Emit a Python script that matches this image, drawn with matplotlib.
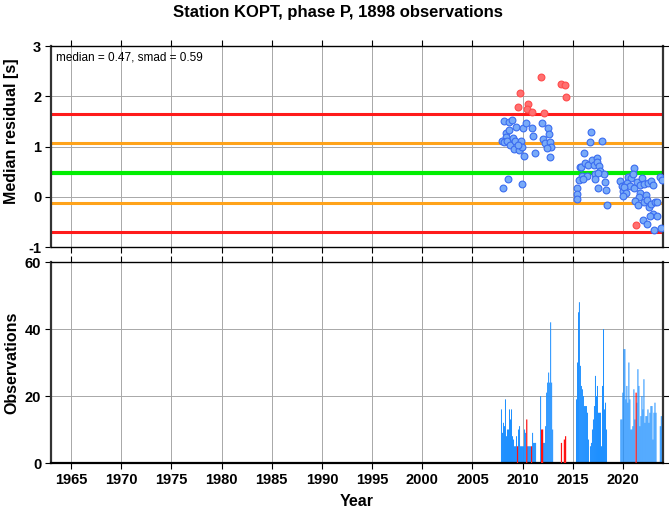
import matplotlib
matplotlib.use("Agg")
import matplotlib.pyplot as plt
import numpy as np

plt.rcParams['font.family'] = ['Liberation Sans', 'DejaVu Sans']

title = "Station KOPT, phase P, 1898 observations"
median = 0.47
smad = 0.59

# Monthly median residuals (inliers)
blue_year = [2008.13, 2008.70, 2008.93, 2009.33, 2008.33, 2008.63, 2008.37, 2007.93, 2008.20, 2008.50,
             2008.77, 2009.03, 2009.23, 2009.13, 2009.66, 2009.86, 2009.90, 2009.50, 2010.06, 2010.33,
             2010.16, 2010.99, 2011.03, 2011.26, 2011.92, 2012.02, 2012.28, 2012.55, 2012.62, 2012.75,
             2012.82, 2012.42, 2012.72, 2008.53, 2008.03, 2009.96,
             2016.84, 2016.77, 2017.93, 2016.17, 2015.74, 2015.87, 2016.27, 2016.50, 2016.97, 2017.14,
             2017.44, 2017.47, 2017.61, 2017.24, 2017.77, 2018.10, 2017.57, 2015.94, 2016.44, 2015.61,
             2016.04, 2017.20, 2018.20, 2015.47, 2017.50, 2018.27, 2015.47, 2015.41, 2018.37,
             2021.13, 2020.53, 2020.80, 2021.00, 2019.73, 2019.90, 2020.26, 2020.46, 2020.73, 2020.03,
             2020.16, 2020.33, 2019.99, 2021.10, 2021.40, 2021.90, 2021.73, 2022.13, 2022.50, 2022.85,
             2023.00, 2021.73, 2021.56, 2022.26, 2021.20, 2021.50, 2022.06, 2022.40, 2022.56, 2022.80,
             2023.22, 2023.39, 2023.75, 2023.88, 2023.00, 2022.72, 2023.39, 2021.99, 2022.38, 2023.82,
             2023.10]
blue_resid = [1.51, 1.49, 1.52, 1.39, 1.26, 1.33, 1.19, 1.10, 1.09, 1.11,
              1.02, 1.16, 1.10, 0.96, 0.94, 1.10, 0.99, 1.03, 1.37, 1.46,
              0.82, 1.37, 1.21, 0.88, 1.46, 1.14, 1.06, 1.37, 1.25, 1.08,
              1.00, 0.98, 0.80, 0.35, 0.17, 0.25,
              1.29, 1.08, 1.10, 0.87, 0.59, 0.60, 0.68, 0.63, 0.73, 0.63,
              0.77, 0.69, 0.61, 0.45, 0.52, 0.46, 0.48, 0.42, 0.41, 0.33,
              0.35, 0.35, 0.29, 0.17, 0.17, 0.14, 0.06, -0.05, -0.16,
              0.58, 0.40, 0.37, 0.45, 0.32, 0.21, 0.23, 0.28, 0.21, 0.12,
              0.19, 0.07, 0.02, 0.17, 0.29, 0.37, 0.23, 0.25, 0.27, 0.32,
              0.23, 0.08, -0.01, 0.03, -0.09, -0.16, -0.10, -0.06, -0.20, -0.15,
              -0.10, -0.11, 0.39, 0.33, -0.34, -0.38, -0.38, -0.46, -0.54, -0.62,
              -0.66]

# Monthly median residuals (outliers)
red_year = [2011.80, 2013.80, 2014.25, 2014.30, 2009.75, 2009.55, 2010.50, 2010.40, 2010.90, 2012.10, 2021.30]
red_resid = [2.38, 2.24, 2.22, 1.99, 2.06, 1.78, 1.85, 1.75, 1.68, 1.67, -0.57]

# Monthly observation counts
bar_year = [2007.90, 2008.00, 2008.10, 2008.20, 2008.30, 2008.40, 2008.50, 2008.60, 2008.70, 2008.80,
            2008.90, 2009.00, 2009.10, 2009.20, 2009.30, 2009.40, 2009.60, 2009.70, 2009.80, 2009.90,
            2010.00, 2010.10, 2010.20, 2010.30, 2010.50, 2010.60, 2010.70, 2010.80, 2011.00, 2011.10,
            2011.20, 2011.30, 2011.80, 2012.10, 2012.20, 2012.30, 2012.40, 2012.50, 2012.60, 2012.70,
            2012.80, 2012.90, 2013.00,
            2015.38, 2015.48, 2015.58, 2015.67, 2015.77, 2015.87, 2015.97, 2016.07, 2016.17, 2016.27,
            2016.37, 2016.47, 2016.57, 2016.77, 2016.87, 2016.97, 2017.07, 2017.17, 2017.27, 2017.37,
            2017.47, 2017.57, 2017.67, 2017.77, 2017.87, 2017.97, 2018.07, 2018.17, 2018.27, 2018.37,
            2019.80, 2019.90, 2020.00, 2020.10, 2020.20, 2020.30, 2020.40, 2020.50, 2020.60, 2020.70,
            2020.80, 2020.90, 2021.00, 2021.10, 2021.20, 2021.40, 2021.50, 2021.60, 2021.70, 2021.80,
            2021.90, 2022.00, 2022.10, 2022.20, 2022.30, 2022.40, 2022.50, 2022.60, 2022.70, 2022.80,
            2022.90, 2023.00, 2023.10, 2023.20, 2023.30, 2023.73, 2023.83, 2023.93]
bar_count = [16, 9, 12, 11, 19, 8, 10, 10, 16, 13,
             16, 8, 7, 5, 5, 8, 10, 11, 5, 5,
             5, 5, 10, 9, 5, 5, 5, 5, 9, 6,
             6, 6, 20, 6, 6, 11, 21, 24, 27, 24,
             42, 24, 10,
             19, 30, 45, 48, 29, 23, 22, 20, 17, 17,
             17, 15, 7, 5, 6, 10, 13, 17, 26, 20,
             23, 15, 15, 15, 5, 23, 40, 16, 18, 10,
             13, 13, 21, 34, 34, 19, 23, 18, 30, 19,
             10, 10, 11, 22, 13, 18, 28, 23, 11, 14,
             20, 16, 25, 12, 14, 14, 16, 12, 15, 17,
             17, 7, 15, 18, 15, 11, 14, 11]

red_bar_year = [2009.50, 2010.42, 2010.90, 2011.90, 2012.00, 2013.88, 2014.17, 2014.29, 2021.32]
red_bar_count = [5, 13, 5, 10, 10, 6, 7, 8, 21]

fig = plt.figure(figsize=(6.69, 5.11), dpi=100)
L, R = 51 / 669, 663 / 669
ax1 = fig.add_axes([L, 1 - 247 / 511, R - L, 201 / 511])
ax2 = fig.add_axes([L, 1 - 463 / 511, R - L, 201 / 511])

xmin, xmax = 1963, 2024
xt = np.arange(1965, 2021, 5)

for ax in (ax1, ax2):
    ax.set_xlim(xmin, xmax)
    ax.set_xticks(xt)
    ax.grid(True, color='#a8a8a8', lw=0.7, zorder=0)
    ax.set_axisbelow(True)
    ax.tick_params(direction='out', length=4, width=0.8, top=True, right=True,
                   bottom=True, left=True, labelsize=10.5, pad=3)
    for s in ('left', 'right'):
        ax.spines[s].set_linewidth(1.6)
        ax.spines[s].set_color('#333333')
    for s in ('top', 'bottom'):
        ax.spines[s].set_linewidth(1.0)
        ax.spines[s].set_color('black')

# Top panel
ax1.set_ylim(-1, 3)
ax1.set_yticks([-1, 0, 1, 2, 3])
ax1.set_yticklabels(['-1', '0', '1', '2', '3'], fontweight='bold')
ax1.tick_params(labelbottom=False)
ax1.axhline(median + 2 * smad, color='#ff1a1a', lw=2.2, zorder=2)
ax1.axhline(median - 2 * smad, color='#ff1a1a', lw=2.2, zorder=2)
ax1.axhline(median + smad, color='#ffa31a', lw=2.2, zorder=2)
ax1.axhline(median - smad, color='#ffa31a', lw=2.2, zorder=2)
ax1.axhline(median, color='#00ee00', lw=3.0, zorder=2)
ax1.scatter(blue_year, blue_resid, s=24, facecolor='#78aaf8', edgecolor='#3a6cf0',
            linewidths=0.8, zorder=3)
ax1.scatter(red_year, red_resid, s=24, facecolor='#ff7070', edgecolor='#ff4a4a',
            linewidths=0.8, zorder=3)
ax1.text(0.008, 0.975, f"median = {median:.2f}, smad = {smad:.2f}", transform=ax1.transAxes,
         va='top', ha='left', fontsize=8.5)
ax1.set_ylabel("Median residual [s]", fontsize=11.5, fontweight='bold')
ax1.yaxis.set_label_coords(-0.052, 0.577)

# Bottom panel
ax2.set_ylim(0, 60)
ax2.set_yticks([0, 20, 40, 60])
ax2.set_yticklabels(['0', '20', '40', '60'], fontweight='bold')
ax2.set_xticklabels([str(v) for v in xt], fontweight='bold')
ax2.spines['bottom'].set_linewidth(1.6)
ax2.bar(bar_year, bar_count, width=0.1, color='#1e90ff', linewidth=0, zorder=2, snap=False)
ax2.bar(red_bar_year, red_bar_count, width=0.12, color='#ff1010', linewidth=0, zorder=3, snap=False)
ax2.set_ylabel("Observations", fontsize=11.5, fontweight='bold')
ax2.yaxis.set_label_coords(-0.052, 0.5)

fig.text(357 / 669, 1 - 501 / 511, "Year", ha='center', va='center', fontsize=11.5, fontweight='bold')
fig.text(0.505, 1 - 12 / 511, title, ha='center', va='center', fontsize=12, fontweight='bold')

fig.savefig("out.png", dpi=100)
